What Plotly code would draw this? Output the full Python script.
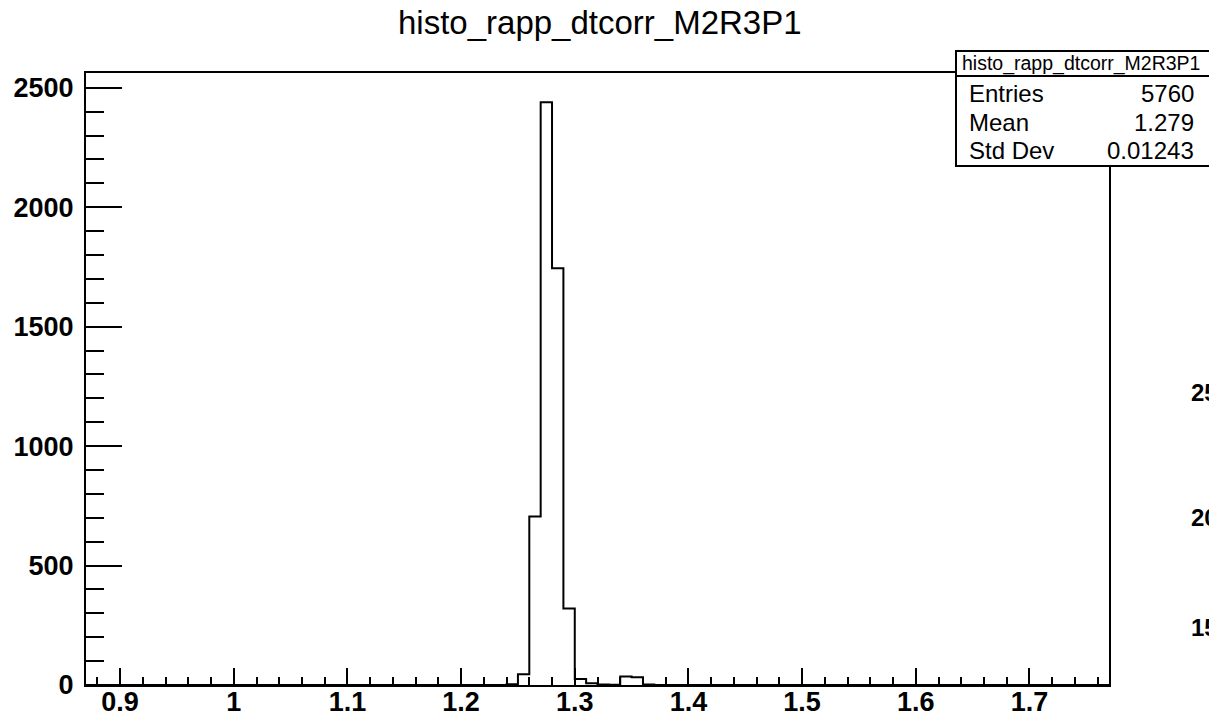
import plotly.graph_objects as go

# ---------------- data ----------------
title_text = "histo_rapp_dtcorr_M2R3P1"
x_range = [0.87, 1.77]          # histogram axis range (bins of 0.01)
y_max = 2562
bin_left_edges = [1.23, 1.24, 1.25, 1.26, 1.27, 1.28, 1.29, 1.30,
                  1.31, 1.32, 1.33, 1.34, 1.35, 1.36, 1.37]
bin_counts = [0, 3, 45, 705, 2440, 1745, 320, 25,
              7, 2, 1, 36, 32, 2, 0]
bin_width = 0.01
stats_labels = ["Entries", "Mean", "Std Dev"]
stats_values = ["5760", "1.279", "0.01243"]
x_tick_vals = [0.9, 1.0, 1.1, 1.2, 1.3, 1.4, 1.5, 1.6, 1.7]
x_tick_text = ["0.9", "1", "1.1", "1.2", "1.3", "1.4", "1.5", "1.6", "1.7"]
y_tick_vals = [0, 500, 1000, 1500, 2000, 2500]
y_tick_text = ["0", "500", "1000", "1500", "2000", "2500"]
side_labels = ["25", "20", "15"]   # cut-off labels of a neighbouring pad

# ---------------- layout geometry ----------------
W, H = 1209, 717
L, T = 86, 73
R = W - 1109
B = H - 685
PW, PH = W - L - R, H - T - B
FONT = "Liberation Sans, Arial, Helvetica, sans-serif"


def px(xp):
    """page x pixel -> paper coordinate"""
    return (xp - L) / PW


def py(yp):
    """page y pixel -> paper coordinate"""
    return (H - B - yp) / PH


xs = [x_range[0]] + bin_left_edges + [bin_left_edges[-1] + bin_width, x_range[1]]
ys = [0] + bin_counts + [0, 0]

fig = go.Figure()
fig.add_trace(go.Scatter(
    x=xs, y=ys, mode="lines", line=dict(color="black", width=2, shape="hv"),
    hoverinfo="skip", showlegend=False))

axis_common = dict(
    showline=True, linecolor="black", linewidth=2, mirror=True,
    showgrid=False, zeroline=False, ticks="inside", tickcolor="black",
    tickwidth=2, automargin=False,
    tickfont=dict(family=FONT, size=27, color="black", weight="bold"),
)

fig.update_xaxes(
    range=x_range, tickvals=x_tick_vals, ticktext=x_tick_text, ticklen=17,
    ticklabelstandoff=-8,
    minor=dict(ticks="inside", ticklen=8, dtick=0.02, tick0=0.9,
               tickcolor="black", tickwidth=2),
    **axis_common)
fig.update_yaxes(
    range=[0, y_max], tickvals=y_tick_vals, ticktext=y_tick_text, ticklen=36,
    ticklabelstandoff=5,
    minor=dict(ticks="inside", ticklen=18, dtick=100, tick0=0,
               tickcolor="black", tickwidth=2),
    **axis_common)

shapes = [
    # stats box
    dict(type="rect", xref="paper", yref="paper", x0=px(956), x1=px(1216),
         y0=py(166), y1=py(51), fillcolor="white",
         line=dict(color="black", width=2), layer="above"),
    dict(type="line", xref="paper", yref="paper", x0=px(956), x1=px(1216),
         y0=py(76), y1=py(76), line=dict(color="black", width=2), layer="above"),
]

annotations = [
    dict(text=title_text, xref="paper", yref="paper", x=px(600), y=py(22),
         xanchor="center", yanchor="middle", showarrow=False,
         font=dict(family=FONT, size=33, color="black")),
    dict(text=title_text, xref="paper", yref="paper", x=px(1081), y=py(63),
         xanchor="center", yanchor="middle", showarrow=False,
         font=dict(family=FONT, size=19.5, color="black")),
]
row_y = [93, 122, 150]
for lab, val, yy in zip(stats_labels, stats_values, row_y):
    annotations.append(dict(text=lab, xref="paper", yref="paper", x=px(967),
                            y=py(yy), xanchor="left", yanchor="middle",
                            showarrow=False,
                            font=dict(family=FONT, size=24, color="black")))
    annotations.append(dict(text=val, xref="paper", yref="paper", x=px(1196),
                            y=py(yy), xanchor="right", yanchor="middle",
                            showarrow=False,
                            font=dict(family=FONT, size=24, color="black")))
for lab, yy in zip(side_labels, [393, 517, 627]):
    annotations.append(dict(text=lab, xref="paper", yref="paper", x=px(1189),
                            y=py(yy), xanchor="left", yanchor="middle",
                            showarrow=False,
                            font=dict(family=FONT, size=24, color="black",
                                      weight="bold")))

fig.update_layout(
    width=W, height=H, margin=dict(l=L, r=R, t=T, b=B, pad=0, autoexpand=False),
    paper_bgcolor="white", plot_bgcolor="white",
    shapes=shapes, annotations=annotations, showlegend=False,
)

fig.write_html(
    "out.html",
    config={"displayModeBar": False},
    post_script="document.body.style.margin='0';"
                "document.body.style.overflow='hidden';")
